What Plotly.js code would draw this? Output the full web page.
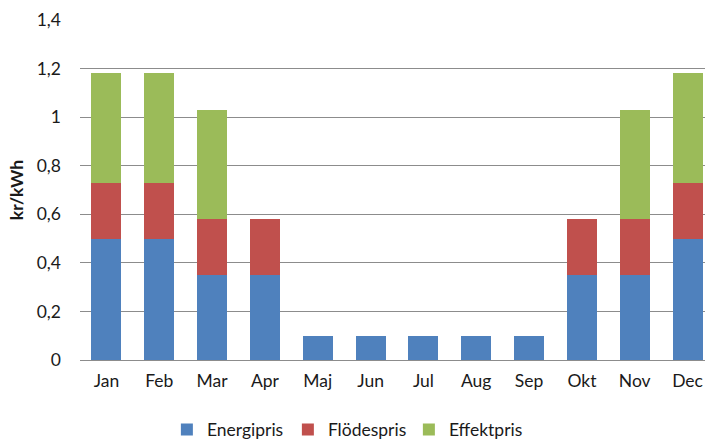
<!DOCTYPE html>
<html><head><meta charset="utf-8">
<script src="https://cdn.plot.ly/plotly-3.0.1.min.js"></script>
<style>html,body{margin:0;padding:0;background:#fff}#c{width:705px;height:439px}</style>
</head><body><div id="c"></div>
<script>
const months = ["Jan","Feb","Mar","Apr","Maj","Jun","Jul","Aug","Sep","Okt","Nov","Dec"];
const energipris = [0.5,0.5,0.35,0.35,0.1,0.1,0.1,0.1,0.1,0.35,0.35,0.5];
const flodespris = [0.23,0.23,0.23,0.23,0,0,0,0,0,0.23,0.23,0.23];
const effektpris = [0.45,0.45,0.45,0,0,0,0,0,0,0,0.45,0.45];
const yTicks = [0,0.2,0.4,0.6,0.8,1,1.2,1.4];
const yTickText = ["0","0,2","0,4","0,6","0,8","1","1,2","1,4"];

const FAM = "Lato, Open Sans, Liberation Sans, sans-serif";
const font = {family: FAM, size: 17.5, color: "#1a1a1a"};
const mk = (name, y, color) => ({type:"bar", name, x: months, y, marker:{color, line:{width:0}}, hoverinfo:"y"});
const data = [
  mk("Energipris", energipris, "#4F81BD"),
  mk("Flödespris", flodespris, "#C0504D"),
  mk("Effektpris", effektpris, "#9BBB59")
];
const layout = {
  width:705, height:439, barmode:"stack", bargap:0.43,
  margin:{l:80, r:0, t:20, b:79, autoexpand:false},
  paper_bgcolor:"#fff", plot_bgcolor:"#fff",
  font: font,
  showlegend:true,
  legend:{orientation:"h", x:0.139, xanchor:"left", y:-0.205, yanchor:"middle", font:font, itemwidth:30, entrywidth:76, traceorder:"normal"},
  xaxis:{type:"category", range:[-0.5, 11.33], showgrid:false, showline:false, ticks:"", tickfont:font, zeroline:false, ticklabelstandoff:8},
  yaxis:{range:[0,1.4], tickvals:yTicks, ticktext:yTickText, showgrid:true, gridcolor:"#8c8c8c", gridwidth:1,
         zeroline:true, zerolinecolor:"#8c8c8c", zerolinewidth:1, showline:false, tickfont:font, ticklabelstandoff:18,
         title:{text:"kr/kWh", font:{family:FAM, size:17.5, color:"#1a1a1a", weight:"bold"}, standoff:8}}
};
Plotly.newPlot("c", data, layout, {displayModeBar:false, staticPlot:true});
</script></body></html>
